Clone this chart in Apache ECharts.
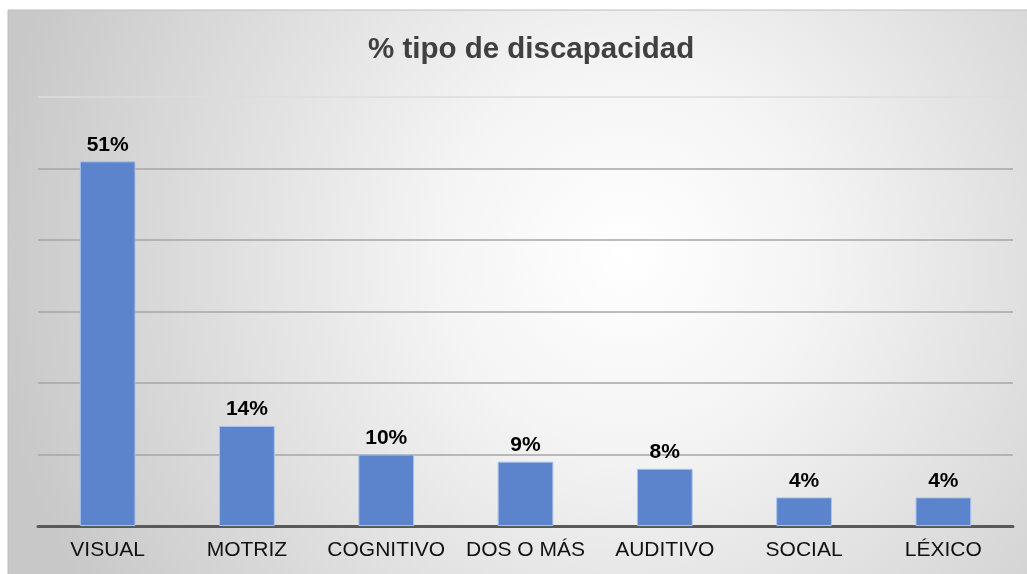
<!DOCTYPE html>
<html>
<head>
<meta charset="utf-8">
<script src="https://cdn.jsdelivr.net/npm/echarts@6/dist/echarts.min.js"></script>
<style>
  html, body { margin: 0; padding: 0; background: #fff; }
  #chart { width: 1027px; height: 574px; }
</style>
</head>
<body>
<div id="chart"></div>
<script>
// datos del gráfico
const categorias = ['VISUAL', 'MOTRIZ', 'COGNITIVO', 'DOS O MÁS', 'AUDITIVO', 'SOCIAL', 'LÉXICO'];
const porcentajes = [51, 14, 10, 9, 8, 4, 4];
const yTicks = [0, 10, 20, 30, 40, 50, 60];

const chart = echarts.init(document.getElementById('chart'));
chart.setOption({
  backgroundColor: '#fff',
  graphic: [{
    type: 'rect',
    z: -10,
    silent: true,
    shape: { x: 8, y: 10, width: 1030, height: 580 },
    style: {
      fill: {
        type: 'radial', x: 0.6, y: 0.42, r: 1.1,
        colorStops: [
          { offset: 0, color: '#FFFFFF' },
          { offset: 0.3, color: '#F4F4F4' },
          { offset: 1, color: '#C8C8C8' }
        ]
      },
      stroke: '#BDBDBD',
      lineWidth: 1
    }
  }],
  title: {
    text: '% tipo de discapacidad',
    left: 363,
    top: 30,
    textStyle: { fontFamily: 'Liberation Sans', fontSize: 29.5, fontWeight: 'bold', color: '#404040' }
  },
  grid: { left: 38, right: 14, top: 97, bottom: 48 },
  xAxis: {
    type: 'category',
    data: categorias,
    axisTick: { show: false },
    axisLine: { lineStyle: { color: '#595959', width: 3 } },
    axisLabel: { interval: 0, fontFamily: 'Liberation Sans', fontSize: 21, color: '#111', margin: 14 }
  },
  yAxis: {
    type: 'value',
    min: yTicks[0],
    max: yTicks[yTicks.length - 1],
    interval: 10,
    axisLabel: { show: false },
    axisLine: { show: false },
    axisTick: { show: false },
    splitLine: {
      lineStyle: {
        color: ['#A6A6A6', '#A6A6A6', '#A6A6A6', '#A6A6A6', '#A6A6A6', '#A6A6A6', '#DDDDDD'],
        width: 1.5
      }
    }
  },
  series: [{
    type: 'bar',
    data: porcentajes,
    barWidth: '40%',
    itemStyle: { color: '#5B84CC', borderColor: '#A9C2EC', borderWidth: 1 },
    label: {
      show: true,
      position: 'top',
      distance: 6,
      formatter: '{c}%',
      fontFamily: 'Liberation Sans',
      fontSize: 21,
      fontWeight: 'bold',
      color: '#000'
    }
  }]
});
</script>
</body>
</html>
